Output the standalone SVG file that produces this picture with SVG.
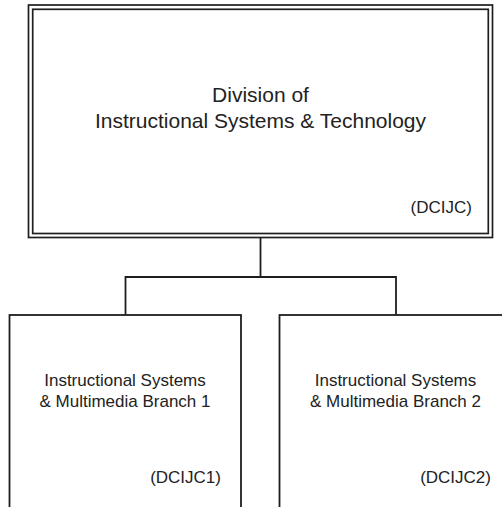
<svg xmlns="http://www.w3.org/2000/svg" width="502" height="507" viewBox="0 0 502 507">
<style>
.box{fill:#fff;stroke:#1e1e1e;stroke-width:1.8}
.dbl{fill:none;stroke:#1e1e1e;stroke-width:1.7}
.conn{fill:none;stroke:#1e1e1e;stroke-width:1.8}
text{font-family:"Liberation Sans",Arial,sans-serif;fill:#222}
.main{font-size:21px;text-anchor:middle}
.sub{font-size:17px;text-anchor:middle}
.code{font-size:17px;text-anchor:end}
</style>
<rect x="0" y="0" width="502" height="507" fill="#fff"/>
<g id="connectors">
<path class="conn" d="M260.5 238 V277 M125.5 277 H396 M125.5 276.1 V315 M396 276.1 V315"/>
</g>
<g id="division">
<rect x="28.5" y="5" width="464" height="232.5" fill="#fff" class="dbl"/>
<rect x="32.7" y="9.3" width="455.6" height="224.2" class="dbl"/>
<text class="main" x="260.5" y="101.5">Division of</text>
<text class="main" x="260.5" y="128">Instructional Systems &amp; Technology</text>
<text class="code" x="472" y="213">(DCIJC)</text>
</g>
<g id="branch1">
<rect class="box" x="9.5" y="315" width="231.5" height="200"/>
<text class="sub" x="125" y="386">Instructional Systems</text>
<text class="sub" x="125" y="407">&amp; Multimedia Branch 1</text>
<text class="code" x="221" y="483">(DCIJC1)</text>
</g>
<g id="branch2">
<rect class="box" x="279.5" y="315" width="232" height="200"/>
<text class="sub" x="395.5" y="386">Instructional Systems</text>
<text class="sub" x="395.5" y="407">&amp; Multimedia Branch 2</text>
<text class="code" x="491" y="483">(DCIJC2)</text>
</g>
</svg>
